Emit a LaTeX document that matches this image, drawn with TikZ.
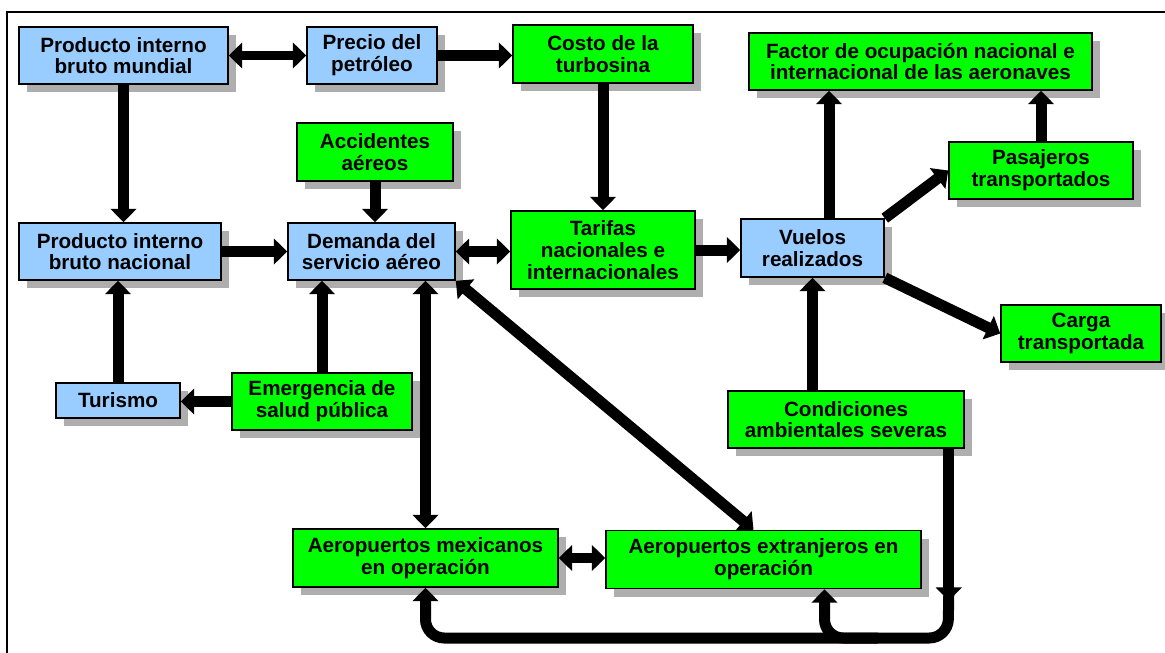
\documentclass[tikz,border=0pt]{standalone}
\usepackage{fontspec}
\setmainfont{Liberation Sans}
\usetikzlibrary{arrows.meta,shadows,calc,positioning}
\definecolor{skyblue}{HTML}{99CCFF}
\definecolor{limegreen}{HTML}{00FF00}
\tikzset{>={Triangle[length=10pt,width=19pt]}}
\tikzset{box/.style 2 args={draw=black,line width=1.2pt,align=center,inner sep=0pt,
    minimum width=#1*0.75pt,minimum height=#2*0.75pt,
    font=\bfseries\fontsize{15.5}{16.3}\selectfont,
    drop shadow={shadow xshift=6pt,shadow yshift=-6pt,fill=black!70,opacity=0.45}}}
\tikzset{bluebox/.style 2 args={box={#1}{#2},fill=skyblue}}
\tikzset{greenbox/.style 2 args={box={#1}{#2},fill=limegreen}}
\tikzset{arr/.style={->,line width=8.25pt}}
\tikzset{darr/.style={<->,line width=7pt}}

\begin{document}
\begin{tikzpicture}[x=0.75pt,y=-0.75pt]
  \clip (0,0) rectangle (1165,653);
  \fill[white] (0,0) rectangle (1165,653);
  \draw[line width=1.5pt] (7,12) rectangle (1180,670);
  % Boxes
  \node[bluebox={209}{57}] (pibm) at (123.5,55.5) {Producto interno\\bruto mundial};
  \node[bluebox={130}{57}] (precio) at (372,55.5) {Precio del\\petróleo};
  \node[greenbox={180}{58}] (costo) at (603,54) {Costo de la\\turbosina};
  \node[greenbox={343}{57}] (factor) at (920.5,61.5) {Factor de ocupación nacional e\\internacional de las aeronaves};
  \node[greenbox={156}{58}] (accid) at (375,152) {Accidentes\\aéreos};
  \node[greenbox={184}{57}] (pasaj) at (1041,170.5) {Pasajeros\\transportados};
  \node[bluebox={202}{57}] (pibn) at (120,251.5) {Producto interno\\bruto nacional};
  \node[bluebox={167}{57}] (demanda) at (371.5,251.5) {Demanda del\\servicio aéreo};
  \node[greenbox={184}{78}] (tarifas) at (603,250) {Tarifas\\nacionales e\\internacionales};
  \node[bluebox={143}{58}] (vuelos) at (812.5,248) {Vuelos\\realizados};
  \node[greenbox={160}{57}] (carga) at (1081,333.5) {Carga\\transportada};
  \node[bluebox={124}{35}] (turismo) at (118,400.5) {Turismo};
  \node[greenbox={180}{57}] (emerg) at (322,401.5) {Emergencia de\\salud pública};
  \node[greenbox={236}{57}] (cond) at (846,419.5) {Condiciones\\ambientales severas};
  \node[greenbox={265}{58}] (amex) at (425.5,558) {Aeropuertos mexicanos\\en operación};
  \node[greenbox={315}{58}] (aext) at (763.5,559.5) {Aeropuertos extranjeros en\\operación};
  % Arrows
  \draw[darr] (pibm.east) -- (precio.west);
  \draw[arr] (precio.east) -- (precio.east -| costo.west);
  \draw[arr] (pibm.south) -- (pibm.south |- pibn.north);
  \draw[arr] (accid.south) -- (accid.south |- demanda.north);
  \draw[arr] (costo.south) -- (tarifas.north);
  \draw[arr] (pibn.east) -- (demanda.west);
  \draw[<->,line width=8.25pt] (demanda.east) -- (demanda.east -| tarifas.west);
  \draw[arr] (tarifas.east) -- (tarifas.east -| vuelos.west);
  \coordinate (vf) at ($(vuelos.north)+(16.5,0)$);
  \draw[arr] (vf) -- (vf |- factor.south);
  \draw[arr] (pasaj.north) -- (pasaj.north |- factor.south);
  \draw[arr] (vuelos.north east) -- (pasaj.west);
  \draw[arr] (vuelos.south east) -- (carga.west);
  \draw[arr] (vuelos.south |- cond.north) -- (vuelos.south);
  \draw[arr] (emerg.west) -- (emerg.west -| turismo.east);
  \draw[arr] (turismo.north) -- (turismo.north |- pibn.south);
  \draw[arr] (emerg.north) -- (emerg.north |- demanda.south);
  \draw[<->,line width=8.25pt] (amex.north |- demanda.south) -- (amex.north);
  \coordinate (ae) at ($(aext.north)+(-10,0)$);
  \draw[<->,line width=8.25pt] (demanda.south east) -- (ae);
  \draw[darr] (amex.east) -- (amex.east -| aext.west);
  % Loop from Condiciones
  \coordinate (cb) at ($(cond.south east)+(-16,0)$);
  \coordinate (ch) at ($(cb)+(0,152)$);
  \coordinate (bot) at (948,638);
  \coordinate (ab) at ($(aext.south)+(61,0)$);
  \draw[arr] (cb) -- (ch);
  \draw[arr,rounded corners=14pt] ($(ch)+(0,-8)$) -- (bot) -- (amex.south |- bot) -- (amex.south);
  \draw[arr,rounded corners=14pt] ($(bot)+(-70,0)$) -- (ab |- bot) -- (ab);
\end{tikzpicture}
\end{document}
